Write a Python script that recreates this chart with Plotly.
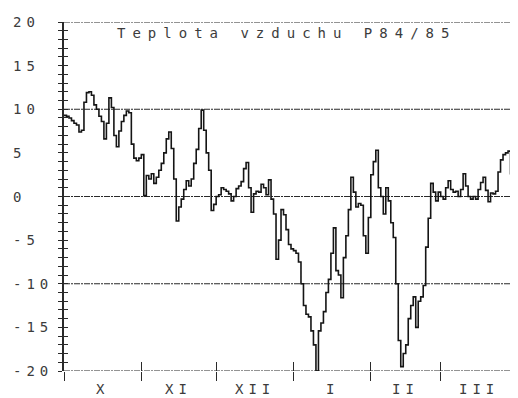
import plotly.graph_objects as go
import pandas as pd

# ---- data ----
start_date = "1984-10-01"
end_date = "1985-03-31"
oct_t = [9.3, 9.2, 9.0, 8.7, 8.4, 8.2, 7.4, 7.6, 10.8, 11.9, 12.0, 11.6, 10.5, 10.0, 9.2, 8.6,
         6.6, 8.4, 11.3, 10.2, 7.0, 5.7, 7.5, 8.6, 9.3, 9.8, 9.6, 6.0, 4.4, 4.1, 4.4]
nov_t = [4.8, 0.1, 2.4, 2.0, 2.6, 1.5, 2.2, 3.0, 3.8, 5.0, 6.6, 7.4, 5.5, 2.0, -2.8, -1.2,
         -0.3, 0.8, 1.8, 1.2, 2.0, 3.8, 5.4, 7.8, 9.9, 7.6, 5.0, 3.0, -1.6, -0.9]
dec_t = [0.0, 0.2, 1.0, 0.8, 0.6, 0.3, -0.5, 0.0, 0.9, 1.2, 1.7, 3.2, 3.9, 1.0, -1.8, 0.3,
         0.6, 0.5, 1.4, 1.0, 0.2, 1.9, -0.3, -2.0, -7.2, -5.0, -1.5, -2.1, -3.8, -5.5, -6.0]
jan_t = [-6.2, -6.5, -7.5, -10.0, -12.5, -13.5, -13.8, -15.4, -17.0, -20.0, -15.4, -14.5,
         -13.2, -11.0, -9.5, -6.5, -3.6, -8.5, -9.0, -11.6, -7.0, -4.5, -1.5, 2.2, 0.5,
         -1.2, -0.8, -1.0, -4.5, -6.5, -2.4]
feb_t = [2.5, 4.0, 5.3, 1.0, 0.0, -2.0, 1.0, -0.5, -3.0, -4.7, -10.0, -16.5, -19.5, -18.0,
         -17.0, -14.0, -12.5, -11.5, -15.0, -12.0, -11.5, -10.2, -5.8, -2.5, 1.5, 0.5, -0.5, 0.5]
mar_t = [0.0, -0.3, 1.0, 1.8, 0.8, 0.5, 0.6, 0.0, 0.8, 2.6, 1.2, 0.0, -0.3, 0.0, -0.3, 0.8,
         1.6, 2.2, 0.7, -0.6, 0.4, 0.3, 0.6, 2.8, 4.2, 4.8, 5.0, 5.2, 2.6, 0.0, 5.8]

month_labels = ["X", "XI", "XII", "I", "II", "III"]
month_starts = ["1984-10-01", "1984-11-01", "1984-12-01", "1985-01-01", "1985-02-01", "1985-03-01", "1985-04-01"]
y_labels = [20, 15, 10, 5, 0, -5, -10, -15, -20]
grid_levels = [20, 10, 0, -10, -20]
title_text = "Teplota vzduchu P84/85"

temps = oct_t + nov_t + dec_t + jan_t + feb_t + mar_t
dates = pd.date_range(start_date, end_date, freq="D")

FONT = "DejaVu Sans Mono"
INK = "#2a2a2a"
TXT = "#3c3c3c"


def spaced(t, px):
    return f'<span style="letter-spacing:{px}px">{t}</span>'


fig = go.Figure()
fig.add_trace(go.Scatter(x=dates, y=temps, mode="lines", line_shape="hv",
                         line=dict(color="#151515", width=1.6), showlegend=False))

xrange_ = ["1984-10-01", "1985-04-01"]
yrange_ = [-20, 20]

fig.update_layout(
    width=510, height=390,
    margin=dict(l=56, r=0, t=14, b=27),
    paper_bgcolor="white", plot_bgcolor="white",
    xaxis=dict(type="date", range=xrange_, tickvals=month_starts, ticks="outside", ticklen=9,
               tickcolor=INK, tickwidth=1, showticklabels=False, showgrid=False,
               zeroline=False, showline=False),
    xaxis2=dict(type="date", range=xrange_, overlaying="x", anchor="y", side="bottom",
                tickvals=month_starts, ticks="inside", ticklen=9, tickcolor=INK, tickwidth=1,
                showticklabels=False, showgrid=False, zeroline=False, showline=False),
    yaxis=dict(range=yrange_, dtick=1, tick0=0, ticks="outside", ticklen=4, tickcolor=INK,
               tickwidth=1, showticklabels=False, showgrid=False, zeroline=False,
               showline=True, linecolor=INK, linewidth=1.5),
    yaxis2=dict(range=yrange_, overlaying="y", anchor="x", side="left", dtick=1, tick0=0,
                ticks="inside", ticklen=4, tickcolor=INK, tickwidth=1, showticklabels=False,
                showgrid=False, zeroline=False, showline=False),
)

# invisible trace so overlay axes render
fig.add_trace(go.Scatter(x=[dates[0]], y=[0], xaxis="x2", yaxis="y2", mode="markers",
                         marker=dict(opacity=0), showlegend=False, hoverinfo="skip"))

for lv in grid_levels:
    fig.add_shape(type="line", xref="paper", x0=0, x1=1, yref="y", y0=lv, y1=lv,
                  line=dict(color=INK, width=1.2, dash="6px,1px,2px,1px"), layer="below")

for v in y_labels:
    fig.add_annotation(xref="paper", x=0, xshift=-53, xanchor="left", yref="y", y=v,
                       yanchor="middle", showarrow=False, text=spaced(str(v), 5),
                       font=dict(family=FONT, size=14, color=TXT))

mids = pd.to_datetime(month_starts[:-1]) + (pd.to_datetime(month_starts[1:]) - pd.to_datetime(month_starts[:-1])) / 2
for lab, m in zip(month_labels, mids):
    fig.add_annotation(xref="x", x=m, yref="paper", y=0, yshift=-18, yanchor="middle",
                       xanchor="center", showarrow=False, text=spaced(lab, 5),
                       font=dict(family=FONT, size=14, color=TXT))

fig.add_annotation(xref="paper", x=0, xshift=51, xanchor="left", yref="paper", y=1, yshift=-11,
                   yanchor="middle", showarrow=False, text=spaced(title_text, 7),
                   font=dict(family=FONT, size=14, color=TXT))

fig.write_html("out.html")
